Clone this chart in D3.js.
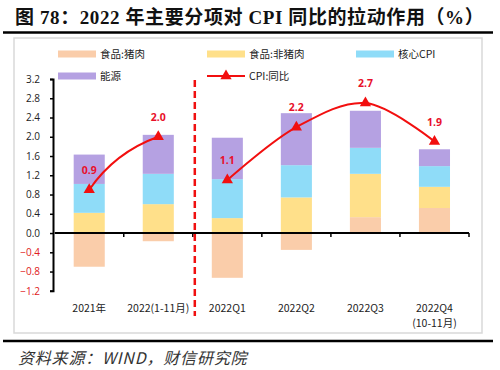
<!DOCTYPE html>
<html><head><meta charset="utf-8">
<script src="https://cdn.jsdelivr.net/npm/d3@7"></script>
<style>
html,body{margin:0;padding:0;background:#fff;}
svg{display:block;}
</style></head>
<body>
<svg id="c" width="500" height="370"></svg>
<script>
const categories = ["2021年", "2022(1-11月)", "2022Q1", "2022Q2", "2022Q3", "2022Q4"];
const categorySub = ["", "", "", "", "", "(10-11月)"];
const porkVals    = [-0.70, -0.17, -0.93, -0.35, 0.33, 0.52];
const nonPorkVals = [ 0.42,  0.60,  0.31,  0.74, 0.90, 0.44];
const coreVals    = [ 0.60,  0.63,  0.81,  0.67, 0.54, 0.43];
const energyVals  = [ 0.61,  0.81,  0.86,  1.08, 0.77, 0.35];
const cpiVals     = [ 0.9, 2.0, 1.1, 2.2, 2.7, 1.9];
const yTicks = [-1.2, -0.8, -0.4, 0.0, 0.4, 0.8, 1.2, 1.6, 2.0, 2.4, 2.8, 3.2];
const seriesNames = ["食品:猪肉", "食品:非猪肉", "核心CPI", "能源"];
const seriesColors = ["#FACDAA", "#FFE08A", "#8FDCF8", "#B5A1E2"];
const lineName = "CPI:同比";
const lineColor = "#F20F0F";

const svg = d3.select("#c");
const numFont = "'Open Sans','Noto Sans',sans-serif";
const cjkFont = "'Noto Sans CJK SC','Noto Sans',sans-serif";

// Title
svg.append("text").attr("x", 15).attr("y", 24)
  .attr("font-family", "'Liberation Serif','Noto Sans CJK SC',serif")
  .attr("font-weight", "bold").attr("font-size", 19).attr("letter-spacing", 0.6).attr("fill", "#111")
  .text("图 78：2022 年主要分项对 CPI 同比的拉动作用（%）");
svg.append("line").attr("x1", 3).attr("x2", 493).attr("y1", 32.5).attr("y2", 32.5)
  .attr("stroke", "#000").attr("stroke-width", 2.5);

// Frame
svg.append("rect").attr("x", 14).attr("y", 38).attr("width", 468).attr("height", 295)
  .attr("fill", "#fff").attr("stroke", "#d9d9d9").attr("stroke-width", 1.5);

// Bottom rule and source
svg.append("line").attr("x1", 3).attr("x2", 493).attr("y1", 341).attr("y2", 341)
  .attr("stroke", "#000").attr("stroke-width", 2.5);
svg.append("text").attr("x", 18).attr("y", 364)
  .attr("font-family", "'Noto Sans CJK SC',serif").attr("font-style", "italic")
  .attr("font-size", 16).attr("letter-spacing", 0.8).attr("fill", "#333")
  .text("资料来源：WIND，财信研究院");

// Scales
const x = d3.scaleBand().domain(categories).range([54.7, 469]).paddingInner(0.55).paddingOuter(0.275);
const y = d3.scaleLinear().domain([-1.2, 3.2]).range([290.8, 79]);

// Stack
const rows = categories.map((c, i) => ({cat: c, v: [porkVals[i], nonPorkVals[i], coreVals[i], energyVals[i]]}));
rows.forEach(r => {
  let pos = 0, neg = 0;
  r.segs = r.v.map((v, k) => {
    let y0, y1;
    if (v >= 0) { y0 = pos; y1 = pos + v; pos = y1; }
    else { y0 = neg; y1 = neg + v; neg = y1; }
    return {k, y0, y1};
  });
});
const g = svg.append("g");
rows.forEach(r => {
  g.selectAll(null).data(r.segs).enter().append("rect")
    .attr("x", x(r.cat)).attr("width", x.bandwidth())
    .attr("y", d => y(Math.max(d.y0, d.y1)))
    .attr("height", d => Math.abs(y(d.y0) - y(d.y1)))
    .attr("fill", d => seriesColors[d.k]);
});

// Y axis
const yAxis = svg.append("g").attr("transform", "translate(53,0)")
  .call(d3.axisLeft(y).tickValues(yTicks).tickSize(3).tickPadding(10).tickFormat(d3.format(".1f")));
yAxis.select(".domain").attr("stroke", "#000").attr("stroke-width", 2);
yAxis.selectAll(".tick line").attr("stroke", "#000").attr("stroke-width", 1.5);
yAxis.selectAll(".tick text").attr("font-family", numFont).attr("font-size", 10)
  .attr("fill", d => d < 0 ? "#E02020" : "#222");

// X axis at zero
const x0 = 54.7, x1 = 469;
svg.append("line").attr("x1", x0).attr("x2", x1).attr("y1", y(0)).attr("y2", y(0))
  .attr("stroke", "#000").attr("stroke-width", 2);
categories.forEach(c => {
  const xe = x(c) + x.bandwidth() + x.step() * x.paddingInner() / 2;
  const xr = Math.min(xe, x1);
  svg.append("line").attr("x1", xr).attr("x2", xr).attr("y1", y(0)).attr("y2", y(0) + 4)
    .attr("stroke", "#000").attr("stroke-width", 1.5);
});
categories.forEach((c, i) => {
  const cx = x(c) + x.bandwidth() / 2;
  svg.append("text").attr("x", cx).attr("y", 312).attr("text-anchor", "middle")
    .attr("font-family", cjkFont).attr("font-size", 10.5).attr("fill", "#222").text(c);
  if (categorySub[i]) svg.append("text").attr("x", cx).attr("y", 327).attr("text-anchor", "middle")
    .attr("font-family", cjkFont).attr("font-size", 10.5).attr("fill", "#222").text(categorySub[i]);
});

// Dashed separator
const sepX = x(categories[1]) + x.bandwidth() + x.step() * x.paddingInner() / 2 + 2;
svg.append("line").attr("x1", sepX).attr("x2", sepX).attr("y1", 80).attr("y2", 316)
  .attr("stroke", "#F01010").attr("stroke-width", 2.5).attr("stroke-dasharray", "7,4");

// CPI lines
const pts = categories.map((c, i) => [x(c) + x.bandwidth() / 2, y(cpiVals[i])]);
{
  const [a, b] = [pts[0], pts[1]];
  const mx = (a[0] + b[0]) / 2, my = (a[1] + b[1]) / 2;
  const dx = b[0] - a[0], dy = b[1] - a[1];
  const len = Math.hypot(dx, dy);
  const off = 14;
  const p = d3.path();
  p.moveTo(a[0], a[1]);
  p.quadraticCurveTo(mx + (dy / len) * off, my + (-dx / len) * off, b[0], b[1]);
  svg.append("path").attr("d", p.toString()).attr("fill", "none")
    .attr("stroke", lineColor).attr("stroke-width", 2);
}
svg.append("path").datum(pts.slice(2))
  .attr("d", d3.line().curve(d3.curveCatmullRom.alpha(0.5)))
  .attr("fill", "none").attr("stroke", lineColor).attr("stroke-width", 2);
const tri = d3.symbol().type(d3.symbolTriangle).size(55);
pts.forEach((p, i) => {
  svg.append("path").attr("d", tri()).attr("transform", `translate(${p[0]},${p[1]})`)
    .attr("fill", lineColor);
  svg.append("text").attr("x", p[0]).attr("y", p[1] - 16).attr("text-anchor", "middle")
    .attr("font-family", numFont).attr("font-weight", "bold").attr("font-size", 10.5)
    .attr("fill", "#E8102A").text(d3.format(".1f")(cpiVals[i]));
});

// Legend
const legItems = [
  {name: seriesNames[0], x: 58, y: 54, type: "bar", color: seriesColors[0]},
  {name: seriesNames[1], x: 207, y: 54, type: "bar", color: seriesColors[1]},
  {name: seriesNames[2], x: 356, y: 54, type: "bar", color: seriesColors[2]},
  {name: seriesNames[3], x: 58, y: 76, type: "bar", color: seriesColors[3]},
  {name: lineName, x: 207, y: 76, type: "line", color: lineColor}
];
legItems.forEach(it => {
  if (it.type === "bar") {
    svg.append("rect").attr("x", it.x).attr("y", it.y - 3.5).attr("width", 38).attr("height", 7).attr("fill", it.color);
  } else {
    svg.append("line").attr("x1", it.x).attr("x2", it.x + 38).attr("y1", it.y).attr("y2", it.y)
      .attr("stroke", it.color).attr("stroke-width", 2);
    svg.append("path").attr("d", tri()).attr("transform", `translate(${it.x + 19},${it.y})`).attr("fill", it.color);
  }
  svg.append("text").attr("x", it.x + 42).attr("y", it.y + 4).attr("font-family", cjkFont)
    .attr("font-size", 10.5).attr("fill", "#222").text(it.name);
});
</script>
</body></html>
